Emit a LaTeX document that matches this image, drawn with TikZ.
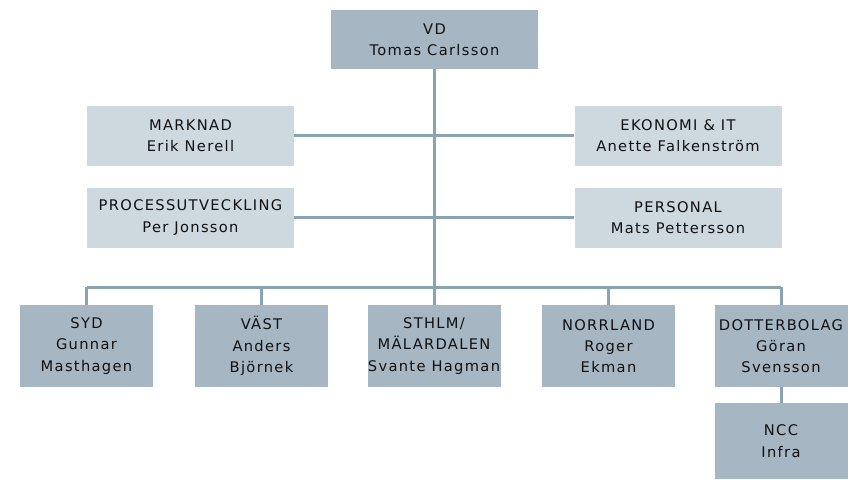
\documentclass[tikz,border=0pt]{standalone}
\usepackage{fontspec}
\setmainfont{DejaVu Sans}[LetterSpace=9]
\definecolor{darkbox}{HTML}{A6B7C3}
\definecolor{lightbox}{HTML}{CDD8DF}
\definecolor{linec}{HTML}{8AA3B2}
\definecolor{txt}{HTML}{111111}
\begin{document}
\begin{tikzpicture}[x=0.75pt,y=-0.75pt,
  box/.style={rectangle, inner sep=0pt, align=center, text=txt,
    font=\fontsize{11}{16}\selectfont},
  darkb/.style={box, fill=darkbox},
  lightb/.style={box, fill=lightbox},
  topb/.style={darkb, minimum width=207*0.75pt, minimum height=59*0.75pt},
  midb/.style={lightb, minimum width=207*0.75pt, minimum height=60*0.75pt},
  botb/.style={darkb, minimum width=133*0.75pt, minimum height=82*0.75pt},
  conn/.style={draw=linec, line width=2.25pt}]
\useasboundingbox (0,0) rectangle (850,479);
\node[topb] (vd) at (434.5,39.5) {VD\\Tomas Carlsson};
\node[midb] (mark) at (190.5,135.5) {MARKNAD\\Erik Nerell};
\node[midb] (eko) at (678,135.5) {EKONOMI \& IT\\Anette Falkenström};
\node[midb] (proc) at (190.5,217.5) {PROCESSUTVECKLING\\Per Jonsson};
\node[midb] (pers) at (678,217.5) {PERSONAL\\Mats Pettersson};
\node[botb] (syd) at (86.5,346) {SYD\\Gunnar\\Masthagen};
\node[botb] (vast) at (261.5,346) {VÄST\\Anders\\Björnek};
\node[botb] (sth) at (434,346) {STHLM/\\MÄLARDALEN\\Svante Hagman};
\node[botb] (norr) at (608.5,346) {NORRLAND\\Roger\\Ekman};
\node[botb] (dot) at (781,346) {DOTTERBOLAG\\Göran\\Svensson};
\node[darkb, minimum width=133*0.75pt, minimum height=76*0.75pt] (ncc) at (781,441) {NCC\\Infra};
\coordinate (bus) at (434,287);
\draw[conn] (vd.south) -- (vd.south |- bus);
\draw[conn] (mark.east) -- (eko.west);
\draw[conn] (proc.east) -- (pers.west);
\draw[conn] (syd.north |- bus) -- (dot.north |- bus);
\draw[conn] (syd.north |- bus) -- (syd.north);
\draw[conn] (vast.north |- bus) -- (vast.north);
\draw[conn] (sth.north |- bus) -- (sth.north);
\draw[conn] (norr.north |- bus) -- (norr.north);
\draw[conn] (dot.north |- bus) -- (dot.north);
\draw[conn] (dot.south) -- (ncc.north);
\end{tikzpicture}
\end{document}
